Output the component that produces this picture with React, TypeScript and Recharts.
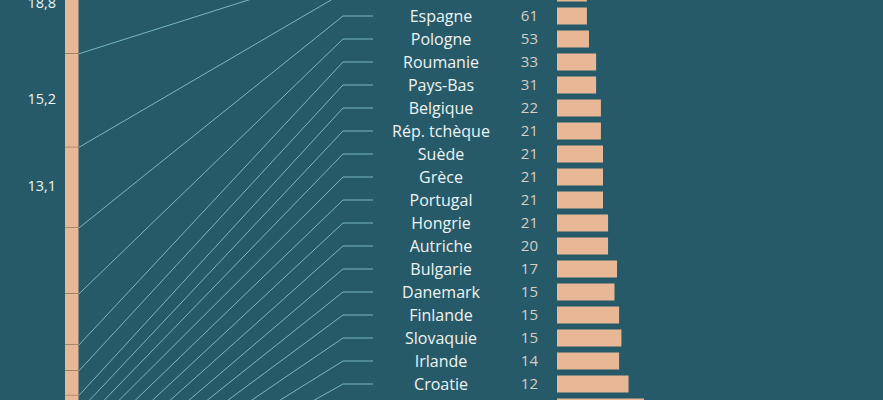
import React from 'react';
import { BarChart, Bar, XAxis, YAxis, LabelList } from 'recharts';

// Pays de l'UE, du plus peuplé au moins peuplé
const pays = [
  'Allemagne', 'France', 'Italie', 'Espagne', 'Pologne', 'Roumanie', 'Pays-Bas',
  'Belgique', 'Rép. tchèque', 'Suède', 'Grèce', 'Portugal', 'Hongrie', 'Autriche',
  'Bulgarie', 'Danemark', 'Finlande', 'Slovaquie', 'Irlande', 'Croatie', 'Lituanie',
  'Slovénie', 'Lettonie', 'Estonie', 'Chypre', 'Luxembourg', 'Malte',
];
// nombre d'eurodéputés
const sieges = [96, 81, 76, 61, 53, 33, 31, 22, 21, 21, 21, 21, 21, 20, 17, 15, 15, 15, 14, 12, 11, 9, 9, 7, 6, 6, 6];
// part de la population de l'UE, en %
const populationPct = [
  18.8, 15.2, 13.1, 10.7, 8.3, 4.2, 4.0, 2.6, 2.4, 2.3, 2.3, 2.3, 2.1, 2.0,
  1.4, 1.3, 1.2, 1.2, 1.2, 0.9, 0.6, 0.5, 0.4, 0.3, 0.2, 0.1, 0.1,
];
// eurodéputés par million d'habitants
const siegesParMillion = [
  1.14, 1.19, 1.3, 1.3, 1.39, 1.7, 1.7, 1.91, 1.91, 2.0, 2.0, 2.0, 2.22, 2.22,
  2.61, 2.5, 2.7, 2.8, 2.7, 3.11, 3.78, 4.25, 4.8, 5.1, 6.5, 9.1, 11.1,
];
// étiquettes de population affichées sur la colonne
const popLabelCount = 3;

const BG = '#265a69';
const PEACH = '#e8b896';
const SEP = '#7d604c';
const LEADER = '#78b8c3';
const NAME_COLOR = '#eef3f3';
const NUM_COLOR = '#d8cec4';
const FONT = '"Open Sans", "Noto Sans", sans-serif';

const W = 883;
const H = 400;
const CHART_TOP = -65;
const CHART_H = 622;
const COL_MARGIN = { top: 3, bottom: 3.4 };
const COL_LEFT = 64;
const COL_W = 15;
const NAME_X = 441;
const NUM_X = 538;
const ELBOW_X = 343;
const LEADER_END_X = 373;

const rows = pays.map((p, i) => ({ pays: p, sieges: sieges[i], densite: siegesParMillion[i] }));
const cumBefore = populationPct.map((_, i) =>
  populationPct.slice(0, i).reduce((a, b) => a + b, 0)
);
const colData = [
  pays.reduce<Record<string, string | number>>((o, p, i) => ({ ...o, [p]: populationPct[i] }), { name: 'UE' }),
];

// même échelle que l'axe Y de la colonne (domaine 0-100, inversé)
const popToY = (cum: number) =>
  COL_MARGIN.top + (cum / 100) * (CHART_H - COL_MARGIN.top - COL_MARGIN.bottom);

const RowTick = (props: any) => {
  const { y, payload } = props;
  const i = pays.indexOf(payload.value);
  return (
    <g>
      <polyline
        points={`${COL_LEFT + COL_W},${popToY(cumBefore[i])} ${ELBOW_X},${y} ${LEADER_END_X},${y}`}
        fill="none"
        stroke={LEADER}
        strokeWidth={1}
      />
      <text x={NAME_X} y={y} dy="0.35em" textAnchor="middle" fill={NAME_COLOR} fontSize={16} fontFamily={FONT}>
        {payload.value}
      </text>
      <text x={NUM_X} y={y} dy="0.35em" textAnchor="end" fill={NUM_COLOR} fontSize={15} fontFamily={FONT}>
        {sieges[i]}
      </text>
    </g>
  );
};

const Segment = (props: any) => {
  const { x, y, width, height } = props;
  const top = Math.min(y, y + height);
  const h = Math.abs(height);
  return (
    <g>
      <rect x={x} y={top} width={width} height={h} fill={PEACH} />
      <line x1={x} x2={x + width} y1={top + h} y2={top + h} stroke={SEP} strokeWidth={1} />
    </g>
  );
};

const PopLabel = (props: any) => {
  const { x, y, height, value } = props;
  const cy = Math.max(y + height / 2 - 2, -CHART_TOP + 2.5);
  return (
    <text x={x - 9} y={cy} dy="0.35em" textAnchor="end" fill={NAME_COLOR} fontSize={14.5} fontFamily={FONT}>
      {String(value).replace('.', ',')}
    </text>
  );
};

export default function App() {
  return (
    <div
      style={{
        position: 'absolute',
        left: 0,
        top: 0,
        width: W,
        height: H,
        overflow: 'hidden',
        background: BG,
      }}
    >
      <div style={{ position: 'absolute', left: 0, top: CHART_TOP }}>
        <BarChart
          layout="vertical"
          width={W}
          height={CHART_H}
          data={rows}
          margin={{ top: 0.5, bottom: 0.5, left: 497, right: 27 }}
          barSize={17}
        >
          <XAxis type="number" domain={[0, 13]} hide />
          <YAxis
            type="category"
            dataKey="pays"
            width={60}
            axisLine={false}
            tickLine={false}
            interval={0}
            tick={(p: any) => <RowTick {...p} />}
          />
          <Bar dataKey="densite" fill={PEACH} isAnimationActive={false} />
        </BarChart>
      </div>
      <div style={{ position: 'absolute', left: 0, top: CHART_TOP }}>
        <BarChart
          width={W}
          height={CHART_H}
          data={colData}
          margin={{ top: COL_MARGIN.top, bottom: COL_MARGIN.bottom, left: COL_LEFT, right: W - COL_LEFT - COL_W }}
          barSize={COL_W}
        >
          <XAxis dataKey="name" hide />
          <YAxis type="number" domain={[0, 100]} reversed hide />
          {pays.map((p, i) => (
            <Bar key={p} dataKey={p} stackId="pop" fill={PEACH} isAnimationActive={false} shape={<Segment />}>
              {i < popLabelCount && <LabelList dataKey={p} content={<PopLabel />} />}
            </Bar>
          ))}
        </BarChart>
      </div>
    </div>
  );
}
